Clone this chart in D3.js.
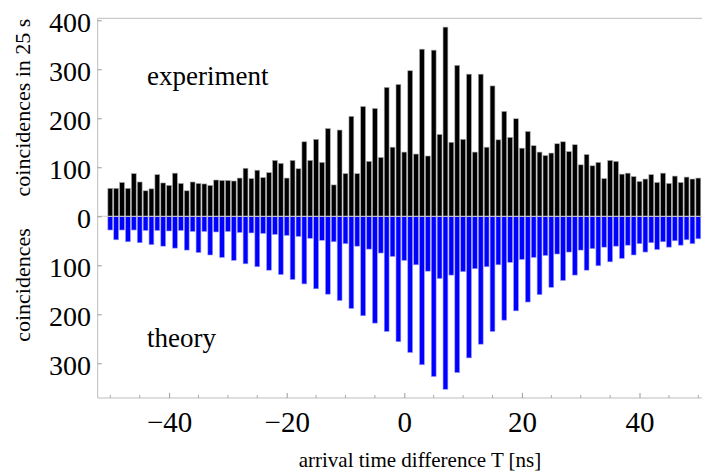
<!DOCTYPE html>
<html>
<head>
<meta charset="utf-8">
<script src="https://cdn.jsdelivr.net/npm/d3@7/dist/d3.min.js"></script>
<style>
  html, body { margin: 0; padding: 0; background: #fff; }
  svg { display: block; font-family: "Liberation Serif", "Times New Roman", serif; }
</style>
</head>
<body>
<svg id="chart" width="702" height="474"></svg>
<script>
// arrival time difference bins [ns]
const timeBins = [
  -50, -49, -48, -47, -46, -45, -44, -43, -42, -41, -40, -39, -38, -37, -36, -35, -34,
  -33, -32, -31, -30, -29, -28, -27, -26, -25, -24, -23, -22, -21, -20, -19, -18, -17,
  -16, -15, -14, -13, -12, -11, -10, -9, -8, -7, -6, -5, -4, -3, -2, -1, 0,
  1, 2, 3, 4, 5, 6, 7, 8, 9, 10, 11, 12, 13, 14, 15, 16, 17,
  18, 19, 20, 21, 22, 23, 24, 25, 26, 27, 28, 29, 30, 31, 32, 33, 34,
  35, 36, 37, 38, 39, 40, 41, 42, 43, 44, 45, 46, 47, 48, 49, 50
];

// measured coincidences in 25 s (black, upward)
const experiment = [
  57, 57, 69, 57, 87, 70, 52, 56, 85, 68, 63, 88, 67, 52, 70, 67, 66,
  63, 74, 73, 73, 72, 78, 98, 77, 94, 79, 89, 114, 108, 78, 114, 97, 152,
  114, 157, 110, 179, 64, 176, 87, 204, 87, 224, 112, 220, 120, 263, 141, 269, 131,
  297, 127, 341, 123, 339, 167, 386, 151, 308, 157, 290, 131, 290, 141, 266, 156, 214,
  161, 199, 139, 173, 144, 131, 124, 129, 148, 152, 132, 146, 105, 126, 103, 110, 77,
  114, 112, 86, 88, 81, 71, 76, 85, 69, 88, 67, 82, 69, 80, 76, 78
];

// theoretical coincidences (blue, drawn downward)
const theory = [
  28, 48, 28, 52, 28, 54, 29, 58, 29, 61, 30, 65, 29, 69, 31, 74, 31,
  79, 32, 84, 31, 90, 33, 97, 34, 103, 35, 110, 37, 119, 39, 129, 41, 138,
  45, 148, 49, 159, 52, 172, 56, 188, 61, 203, 67, 218, 75, 235, 82, 256, 90,
  278, 99, 303, 112, 327, 127, 353, 120, 319, 113, 289, 107, 261, 103, 235, 99, 212,
  94, 193, 88, 175, 84, 160, 80, 145, 77, 131, 73, 120, 69, 110, 66, 101, 63,
  93, 61, 86, 59, 79, 56, 73, 54, 68, 52, 63, 50, 59, 48, 56, 46
];

const yTicks = [400, 300, 200, 100, 0, -100, -200, -300];
const xMajorTicks = [-40, -20, 0, 20, 40];
const xMinorTicks = [-50, -45, -35, -30, -25, -15, -10, -5, 5, 10, 15, 25, 30, 35, 45, 50];

const svg = d3.select("#chart");

// frame box (right edge falls outside the picture)
const F = { left: 97.7, right: 710.9, top: 18.3, bottom: 398 };

const x = d3.scaleLinear().domain([-52.14, 52.14]).range([F.left, F.right]);
const y = d3.scaleLinear().domain([-370.8, 404]).range([F.bottom, F.top]);

const barW = (x(1) - x(0)) * 0.82;

// ---- bars ----
svg.append("g")
  .selectAll("rect")
  .data(timeBins)
  .join("rect")
  .attr("x", (d) => x(d) - barW / 2)
  .attr("y", (d, i) => y(experiment[i]))
  .attr("width", barW)
  .attr("height", (d, i) => y(0) - y(experiment[i]))
  .attr("fill", "#000")
  .attr("stroke", "#a8a8a8")
  .attr("stroke-width", 0.6);

svg.append("g")
  .selectAll("rect")
  .data(timeBins)
  .join("rect")
  .attr("x", (d) => x(d) - barW / 2)
  .attr("y", y(0))
  .attr("width", barW)
  .attr("height", (d, i) => y(-theory[i]) - y(0))
  .attr("fill", "#0000ff")
  .attr("stroke", "#9a9aff")
  .attr("stroke-width", 0.6);

// zero line
svg.append("line")
  .attr("x1", F.left).attr("x2", F.right)
  .attr("y1", y(0)).attr("y2", y(0))
  .attr("stroke", "#cfcfcf")
  .attr("stroke-width", 1);

// ---- frame ----
const frame = svg.append("g").attr("stroke", "#bdbdbd").attr("stroke-width", 1);
frame.append("line").attr("x1", F.left).attr("x2", F.left).attr("y1", F.top).attr("y2", F.bottom);
frame.append("line").attr("x1", F.left).attr("x2", F.right).attr("y1", F.top).attr("y2", F.top);
frame.append("line").attr("x1", F.left).attr("x2", F.right).attr("y1", F.bottom).attr("y2", F.bottom);

// ---- y axis: ticks + labels (magnitudes only) ----
const yAxis = d3.axisLeft(y)
  .tickValues(yTicks)
  .tickSizeInner(-4)
  .tickSizeOuter(0)
  .tickPadding(10)
  .tickFormat((d) => Math.abs(d));

svg.append("g")
  .attr("transform", `translate(${F.left},0)`)
  .call(yAxis)
  .call((g) => g.select(".domain").remove())
  .call((g) => g.selectAll("line").attr("stroke", "#999"))
  .call((g) => g.selectAll("text")
    .attr("font-family", "Liberation Serif")
    .attr("font-size", 28)
    .attr("fill", "#000")
    .attr("dy", 11)
    .attr("x", -6.7));

// ---- x axis ----
const xAxis = d3.axisBottom(x)
  .tickValues(xMajorTicks)
  .tickSizeInner(-5)
  .tickSizeOuter(0)
  .tickPadding(0)
  .tickFormat((d) => (d < 0 ? "\u2212" + Math.abs(d) : d));

svg.append("g")
  .attr("transform", `translate(0,${F.bottom})`)
  .call(xAxis)
  .call((g) => g.select(".domain").remove())
  .call((g) => g.selectAll("line").attr("stroke", "#999"))
  .call((g) => g.selectAll("text")
    .attr("font-family", "Liberation Serif")
    .attr("font-size", 29)
    .attr("fill", "#000")
    .attr("y", 34)
    .attr("dy", 0));

svg.append("g")
  .selectAll("line")
  .data(xMinorTicks)
  .join("line")
  .attr("x1", (d) => x(d)).attr("x2", (d) => x(d))
  .attr("y1", F.bottom).attr("y2", F.bottom - 3)
  .attr("stroke", "#aaa");

// ---- labels ----
svg.append("text")
  .attr("x", 420).attr("y", 467)
  .attr("text-anchor", "middle")
  .attr("font-size", 21)
  .text("arrival time difference T [ns]");

svg.append("text")
  .attr("transform", "translate(29.5,107.5) rotate(-90)")
  .attr("text-anchor", "middle")
  .attr("font-size", 22)
  .text("coincidences in 25 s");

svg.append("text")
  .attr("transform", "translate(29.5,285) rotate(-90)")
  .attr("text-anchor", "middle")
  .attr("font-size", 22)
  .text("coincidences");

svg.append("text")
  .attr("x", 147).attr("y", 85)
  .attr("font-size", 27)
  .text("experiment");

svg.append("text")
  .attr("x", 147).attr("y", 347)
  .attr("font-size", 27)
  .text("theory");
</script>
</body>
</html>
